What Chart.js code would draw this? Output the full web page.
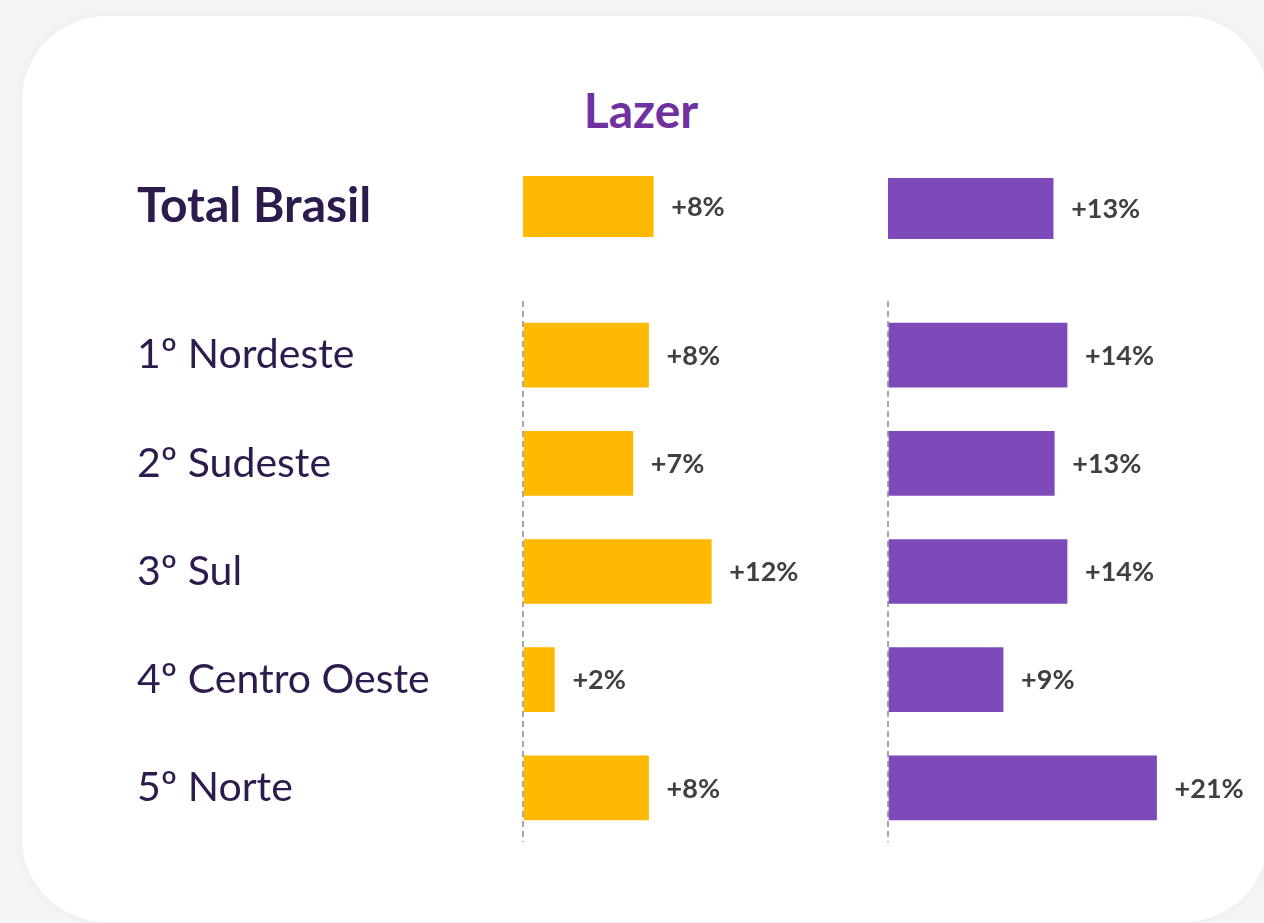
<!DOCTYPE html>
<html>
<head>
<meta charset="utf-8">
<script src="https://cdn.jsdelivr.net/npm/chart.js@4.4.1/dist/chart.umd.min.js"></script>
<style>
  body { margin: 0; width: 1264px; height: 923px; overflow: hidden; background: #f4f4f4; font-family: Lato, sans-serif; position: relative; }
  .card { position: absolute; left: 22px; top: 16px; width: 1246px; height: 906px; background: #fff; border-radius: 84px; box-shadow: 0 0 10px rgba(0,0,0,0.04); }
  .title { position: absolute; left: 441px; width: 400px; top: 80px; text-align: center; font: 700 48px Lato, sans-serif; color: #7030a0; line-height: 60px; }
  canvas { position: absolute; }
</style>
</head>
<body>
<div class="card"></div>
<div class="title">Lazer</div>
<canvas id="topYellow" width="736" height="61" style="left:137px;top:176px"></canvas>
<canvas id="topPurple" width="378" height="61" style="left:886px;top:178px"></canvas>
<canvas id="regYellow" width="736" height="541" style="left:137px;top:301px"></canvas>
<canvas id="regPurple" width="378" height="541" style="left:886px;top:301px"></canvas>
<script>
const totalLabel = ["Total Brasil"];
const totalYellow = [8];
const totalPurple = [13];
const regions = ["1º Nordeste", "2º Sudeste", "3º Sul", "4º Centro Oeste", "5º Norte"];
const regionYellow = [8, 7, 12, 2, 8];
const regionPurple = [14, 13, 14, 9, 21];

const YELLOW = "#ffb900";
const PURPLE = "#7e4ab9";
const LABEL = "#2d1b4e";

Chart.defaults.font.family = "Lato, sans-serif";
Chart.defaults.animation = false;

// "+8%" next to the end of every bar
const valueLabels = {
  id: "valueLabels",
  afterDatasetsDraw(chart) {
    const ctx = chart.ctx;
    ctx.save();
    ctx.font = "700 27px Lato, sans-serif";
    ctx.fillStyle = "#404040";
    ctx.textBaseline = "middle";
    chart.getDatasetMeta(0).data.forEach((bar, i) => {
      const v = chart.data.datasets[0].data[i];
      ctx.fillText(`+${v}%`, bar.x + 18, bar.y + 1);
    });
    ctx.restore();
  },
};

// no room for half labels above/below the plot
const noPad = (s) => { s.paddingTop = 0; s.paddingBottom = 0; };

function makeChart(id, labels, values, color, opts) {
  const yScale = {
    grid: { display: false },
    border: { display: false },
    ticks: opts.showLabels
      ? { crossAlign: "far", color: LABEL, padding: 0, font: { size: opts.labelSize, weight: opts.labelWeight } }
      : { display: false },
    afterFit: (s) => { s.width = opts.showLabels ? 386 : 2; noPad(s); },
  };
  const xScale = {
    display: opts.dashed,
    min: 0,
    max: opts.max,
    ticks: { display: false },
    border: { display: false, dash: [6, 4] },
    grid: {
      drawTicks: false,
      lineWidth: 2,
      color: (c) => (c.tick && c.tick.value === 0 ? "#a6a6a6" : "rgba(0,0,0,0)"),
    },
    afterFit: (s) => { s.height = 0; },
  };
  return new Chart(document.getElementById(id), {
    type: "bar",
    data: {
      labels,
      datasets: [{ data: values, backgroundColor: color, barThickness: opts.thickness }],
    },
    options: {
      indexAxis: "y",
      responsive: false,
      layout: { padding: 0 },
      plugins: { legend: { display: false }, tooltip: { enabled: false } },
      scales: { x: xScale, y: yScale },
    },
    plugins: [valueLabels],
  });
}

makeChart("topYellow", totalLabel, totalYellow, YELLOW,
  { showLabels: true, labelSize: 48, labelWeight: "700", dashed: false, thickness: 61, max: 21.5 });
makeChart("topPurple", totalLabel, totalPurple, PURPLE,
  { showLabels: false, dashed: false, thickness: 61, max: 29.6 });
makeChart("regYellow", regions, regionYellow, YELLOW,
  { showLabels: true, labelSize: 41, labelWeight: "400", dashed: true, thickness: 64, max: 22.3 });
makeChart("regPurple", regions, regionPurple, PURPLE,
  { showLabels: false, dashed: true, thickness: 64, max: 29.4 });
</script>
</body>
</html>
